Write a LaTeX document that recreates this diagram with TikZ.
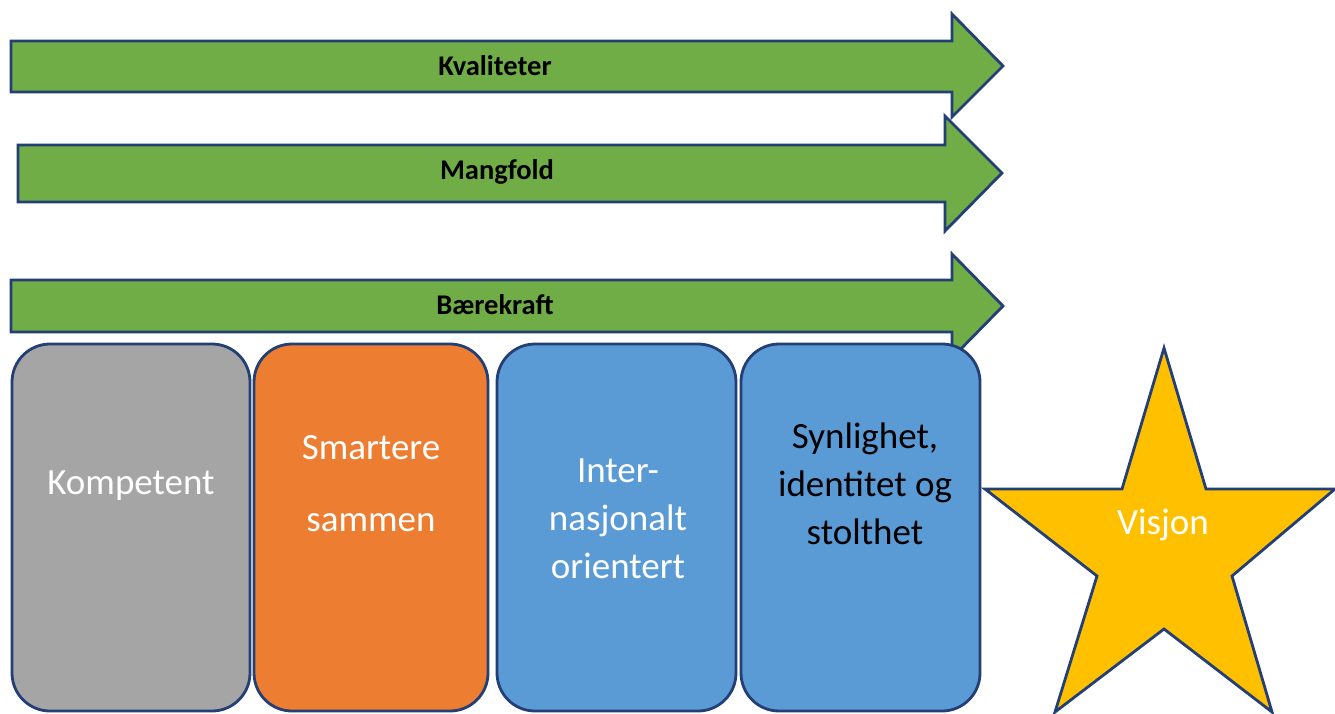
\documentclass[tikz,border=0pt]{standalone}
\usepackage{fontspec}
\setmainfont{Carlito}
\definecolor{agreen}{HTML}{70AD47}
\definecolor{aorange}{HTML}{ED7D31}
\definecolor{ablue}{HTML}{5B9BD5}
\definecolor{agray}{HTML}{A5A5A5}
\definecolor{agold}{HTML}{FFC000}
\definecolor{aline}{HTML}{233F75}
\begin{document}
\begin{tikzpicture}[x=1pt,y=-1pt,
  shapeline/.style={draw=aline,line width=2.8pt,line join=miter},
  arrowshape/.style={shapeline,fill=agreen},
  arrowlabel/.style={font=\fontsize{28.5}{32}\selectfont\bfseries,text=black,inner sep=0pt},
  boxshape/.style={shapeline,rounded corners=38pt},
  boxlabel/.style={font=\fontsize{37}{48}\selectfont,align=center,inner sep=0pt},
]
\useasboundingbox (0,0) rectangle (1335,713);
% arrows
\draw[arrowshape] (11,41) -- (952,41) -- (952,14) -- (1003,66) -- (952,117) -- (952,92) -- (11,92) -- cycle;
\node[arrowlabel] (kval) at (495,66) {Kvaliteter};
\draw[arrowshape] (18,145) -- (945,145) -- (945,116) -- (1002,173) -- (945,231) -- (945,202) -- (18,202) -- cycle;
\node[arrowlabel] (mang) at (497,172) {Mangfold};
\draw[arrowshape] (11,280) -- (952,280) -- (952,254) -- (1003,306) -- (952,358) -- (952,332) -- (11,332) -- cycle;
\node[arrowlabel] (baer) at (495,305) {Bærekraft};
% boxes
\draw[boxshape,fill=agray] (12,344) rectangle (250,711);
\draw[boxshape,fill=aorange] (254,344) rectangle (488,711);
\draw[boxshape,fill=ablue] (497,344) rectangle (736,711);
\draw[boxshape,fill=ablue] (741,344) rectangle (980,711);
\node[boxlabel,text=white] (komp) at (131,486) {Kompetent};
\node[boxlabel,text=white] (smart) at (371,484) {Smartere\\[24pt]sammen};
\node[boxlabel,text=white] (inter) at (618,519) {Inter-\\nasjonalt\\orientert};
\node[boxlabel,text=black] (synl) at (865,484) {Synlighet,\\identitet og\\stolthet};
% star
\draw[shapeline,fill=agold] (1164,348) -- (1206,489) -- (1335,489) -- (1232,576) -- (1272,712) -- (1164,629) -- (1055,712) -- (1097,576) -- (985,489) -- (1122,489) -- cycle;
\node[boxlabel,text=white] (vis) at (1163,525) {Visjon};
\end{tikzpicture}
\end{document}
